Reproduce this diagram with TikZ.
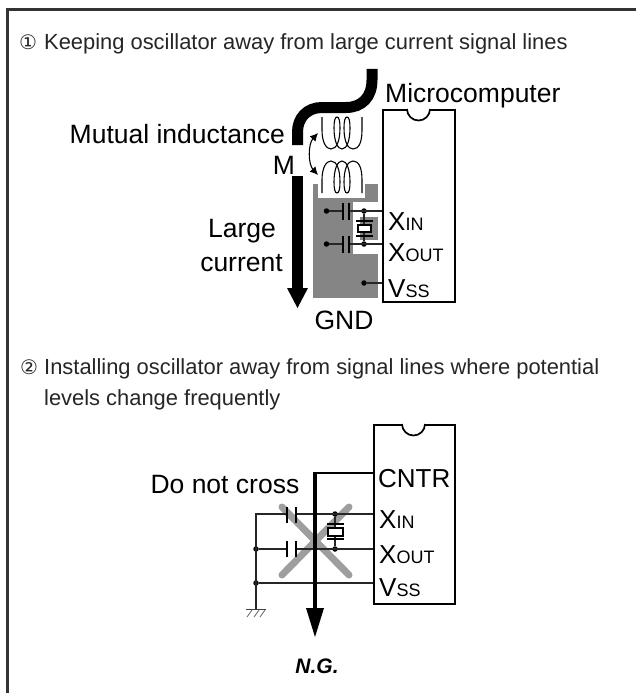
\documentclass[tikz,border=0pt]{standalone}
\usepackage{fontspec}
\setmainfont{Liberation Sans}
\newfontfamily\symf{DejaVu Sans}
\usetikzlibrary{arrows.meta}
\definecolor{gndc}{gray}{0.52}
\definecolor{crossc}{gray}{0.62}
\definecolor{framec}{gray}{0.2}
\definecolor{notec}{gray}{0.15}
\newcommand{\SubS}[2]{#1{\fontsize{18}{18}\selectfont #2}}
\newcommand{\coilpath}{(322,117) -- (322,130) .. controls (322,142) and (326,149) .. (331,149) .. controls (337,149) and (340,140) .. (340,128) .. controls (340,121) and (339,117) .. (337,117) .. controls (335,117) and (334,121) .. (334,128) .. controls (334,142) and (338,149) .. (342,149) .. controls (347,149) and (350,140) .. (350,128) .. controls (350,121) and (349,117) .. (347,117) .. controls (345,117) and (344,121) .. (344,128) .. controls (344,142) and (348,149) .. (353,149) .. controls (359,149) and (362,142) .. (362,130) -- (362,117)}
\tikzset{
  x=1pt,y=-1pt,
  frameline/.style={draw=framec,line width=3pt},
  chip/.style={draw=black,line width=1.7pt,fill=white,rectangle,inner sep=0pt,anchor=north west},
  wire/.style={draw=black!85,line width=1.1pt},
  big/.style={inner sep=0pt,font=\fontsize{26.5}{30}\selectfont},
  pinlab/.style={inner sep=0pt,anchor=base west,font=\fontsize{26}{30}\selectfont},
  note/.style={inner sep=0pt,anchor=base west,font=\fontsize{21.9}{26}\selectfont,text=notec},
  circnum/.style={inner sep=0pt,anchor=base west,font=\symf\fontsize{20}{24}\selectfont,text=notec},
  dotn/.style={circle,fill=black,inner sep=0pt,minimum size=5.5pt},
  coilline/.style={draw=black,line width=1.1pt},
  xtalbox/.style={draw=black,line width=1.2pt,fill=white},
  plate/.style={draw=black,line width=1.2pt},
  heavy/.style={draw=black,line width=11pt},
  headtri/.style={fill=black},
}
\begin{document}
\begin{tikzpicture}
\useasboundingbox (0,0) rectangle (636,693);
\fill[white] (0,0) rectangle (636,693);
% frame
\coordinate (fa) at (7,693); \coordinate (fb) at (7,9.5); \coordinate (fc) at (636,9.5);
\draw[frameline] (fa) -- (fb) -- (fc);
% text
\node[circnum] (c1) at (19,49) {①};
\node[note] (t1) at (44,49) {Keeping oscillator away from large current signal lines};
\node[circnum] (c2) at (20,374) {②};
\node[note] (t2) at (44,374) {Installing oscillator away from signal lines where potential};
\node[note] (t3) at (44,405) {levels change frequently};
% ---- upper diagram: ground area
\fill[gndc] (313,184) rectangle (378,298);
\fill[white] (318,184) rectangle (365,198);
\fill[white] (353,202) rectangle (378,217);
\fill[white] (353,217) rectangle (360,240);
\fill[white] (353,240) rectangle (378,254);
% chip
\node[chip,minimum width=72pt,minimum height=192pt] (u1) at (382,109) {};
\draw[draw=black,line width=1.7pt,fill=white] (407,109) arc[start angle=180,end angle=0,radius=11.5];
\draw[white,line width=1.4pt] (408,109) -- (429,109);
% labels
\node[big,anchor=base west] (micro) at (385,102) {Microcomputer};
\node[big,anchor=base east] (mutual) at (285,143) {Mutual inductance};
\node[big,anchor=base] (mm) at (284,174) {M};
\node[big,anchor=base] (large) at (242,237) {Large};
\node[big,anchor=base] (curr) at (241.5,271) {current};
\node[big,anchor=base] (gndl) at (344,329) {GND};
\node[pinlab] (uxin) at (388,230) {\SubS{X}{IN}};
\node[pinlab] (uxout) at (388,261) {\SubS{X}{OUT}};
\node[pinlab] (uvss) at (388,297) {\SubS{V}{SS}};
% heavy line
\coordinate (ha) at (372,69); \coordinate (hb) at (297.5,145);
\coordinate (hc) at (297.5,176); \coordinate (hd) at (297.5,292);
\draw[heavy] (ha) -- (372,80) .. controls (372,97) and (362,107.5) .. (346,107.5) -- (322,107.5) .. controls (307,107.5) and (297.5,118) .. (297.5,132) -- (hb);
\draw[heavy] (hc) -- (hd);
\fill[headtri] (287,288) -- (308,288) -- (297.5,308) -- cycle;
% coils
\draw[coilline] \coilpath;
\begin{scope}[shift={(0,310)},yscale=-1]
\draw[coilline] \coilpath;
\end{scope}
% mutual arrow
\coordinate (ma) at (318,133); \coordinate (mb) at (318,175);
\draw[black,line width=1.1pt,{Latex[length=8pt,width=8pt]}-{Latex[length=8pt,width=8pt]}] (ma) .. controls (308,144) and (308,164) .. (mb);
% upper wires
\node[dotn] (d1) at (326.5,211) {};
\node[dotn] (d2) at (326.5,244) {};
\node[dotn] (d3) at (364,211) {};
\node[dotn] (d4) at (364,244) {};
\node[dotn] (d5) at (364,283) {};
\coordinate (pa) at (382,211); \coordinate (pb) at (382,244); \coordinate (pc) at (382,283);
\draw[wire] (d1) -- (343,211); \draw[wire] (349,211) -- (pa);
\draw[wire] (d2) -- (343,244); \draw[wire] (349,244) -- (pb);
\draw[wire] (d5) -- (pc);
\draw[plate] (343,203) -- (343,220); \draw[plate] (349,203) -- (349,220);
\draw[plate] (343,236) -- (343,253); \draw[plate] (349,236) -- (349,253);
\draw[wire] (d3) -- (d4);
\draw[plate] (356,221) -- (373,221); \draw[plate] (356,236) -- (373,236);
\draw[xtalbox] (358,225) rectangle (371,232);
% ---- lower diagram
\draw[crossc,line width=7pt,line cap=round] (282,507) -- (349,575);
\draw[crossc,line width=7pt,line cap=round] (349,507) -- (282,575);
\node[chip,minimum width=81pt,minimum height=179pt] (u2) at (373,424) {};
\draw[draw=black,line width=1.7pt,fill=white] (402,424) arc[start angle=180,end angle=0,radius=11.5];
\draw[white,line width=1.4pt] (403,424) -- (424,424);
\node[big,anchor=base east] (dnc) at (299.5,493) {Do not cross};
\node[pinlab] (cntr) at (378,487) {CNTR};
\node[pinlab] (lxin) at (379,528) {\SubS{X}{IN}};
\node[pinlab] (lxout) at (379,563) {\SubS{X}{OUT}};
\node[pinlab] (lvss) at (379,596) {\SubS{V}{SS}};
\node[dotn] (e1) at (256,549) {};
\node[dotn] (e2) at (256,583) {};
\node[dotn] (e3) at (335,514) {};
\node[dotn] (e4) at (335,549) {};
\coordinate (qa) at (373,514); \coordinate (qb) at (373,549); \coordinate (qc) at (373,583); \coordinate (qd) at (373,473);
\coordinate (corner) at (256,514); \coordinate (gt) at (256,609);
\draw[wire] (qa) -- (296,514); \draw[wire] (287,514) -- (corner) -- (gt);
\draw[wire] (qb) -- (296,549); \draw[wire] (287,549) -- (e1);
\draw[wire] (qc) -- (e2);
\draw[plate] (287,507) -- (287,523); \draw[plate] (296,507) -- (296,523);
\draw[plate] (287,541) -- (287,557); \draw[plate] (296,541) -- (296,557);
\draw[wire] (e3) -- (e4);
\draw[plate] (327,524) -- (344,524); \draw[plate] (327,539) -- (344,539);
\draw[xtalbox] (328,528) rectangle (343,536);
% ground
\draw[draw=black!75,line width=0.9pt] (246,609) -- (266,609);
\foreach \gx in {252,259,265} \draw[draw=black!60,line width=0.8pt] (\gx,610) -- (\gx-5,617);
% thick signal
\coordinate (sb) at (314.7,608);
\draw[black,line width=1.7pt] (qd) -- (314.7,473);
\draw[black,line width=4pt] (314.7,472) -- (sb);
\fill[headtri] (306,608) -- (324,608) -- (315,637) -- cycle;
\node[inner sep=0pt,anchor=base,font=\fontsize{21}{24}\selectfont\bfseries\itshape] (ng) at (317,673) {N.G.};
\end{tikzpicture}
\end{document}
